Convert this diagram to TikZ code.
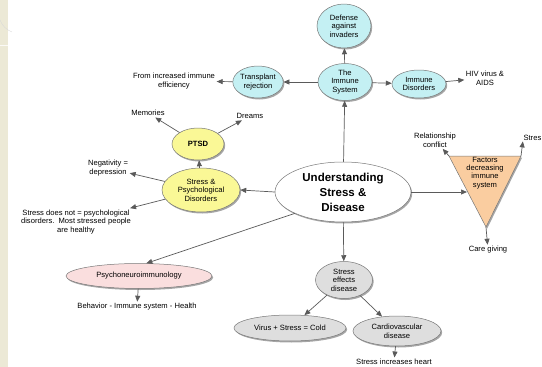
\documentclass[tikz,border=0pt]{standalone}
\usepackage{fontspec}
\setmainfont{Liberation Sans}
\usetikzlibrary{arrows.meta,shapes.geometric,shadows}
\definecolor{cyanf}{RGB}{196,240,243}
\definecolor{yellowf}{RGB}{250,248,150}
\definecolor{pinkf}{RGB}{250,222,222}
\definecolor{grayf}{RGB}{222,222,222}
\definecolor{orangef}{RGB}{250,205,160}
\definecolor{beige}{RGB}{236,233,214}
\definecolor{edgec}{RGB}{120,120,120}
\definecolor{arrc}{RGB}{90,90,90}
\begin{document}
\begin{tikzpicture}[x=1pt,y=-1pt,
  shad/.style={drop shadow={shadow xshift=1.2pt,shadow yshift=-1.5pt,opacity=0.35,fill=black}},
  el/.style={ellipse,draw=edgec,line width=0.5pt,inner sep=0pt,align=center,
    font=\fontsize{7.6}{8.6}\selectfont,shad},
  txt/.style={align=center,inner sep=1.5pt,font=\fontsize{7.6}{8.6}\selectfont},
  arr/.style={draw=arrc,line width=0.7pt,-{Triangle[length=6pt,width=5pt]}}]
\useasboundingbox (0,0) rectangle (542,367);
\clip (0,0) rectangle (542,367);
\fill[white] (0,0) rectangle (542,367);
\fill[beige] (0,0) rectangle (8,367);
\draw[white,line width=0.6pt,opacity=0.8] (0,45) -- (8,45);
\draw[black!15,line width=0.4pt] (0,20) arc[start angle=160,end angle=110,radius=20];

% immune cluster
\node[el,fill=cyanf,minimum width=54pt,minimum height=44pt] (def) at (344,26) {Defense\\against\\invaders};
\node[el,fill=cyanf,minimum width=54pt,minimum height=37pt] (imm) at (345,82) {The\\Immune\\System};
\node[el,fill=cyanf,minimum width=48pt,minimum height=32pt] (tra) at (258,82) {Transplant\\rejection};
\node[el,fill=cyanf,minimum width=54pt,minimum height=28pt] (dis) at (419,84) {Immune\\Disorders};
\node[txt] (hiv) at (485,78) {HIV virus \&\\AIDS};
\node[txt] (eff) at (174,81) {From increased immune\\efficiency};

% center
\node[el,fill=white,minimum width=136pt,minimum height=60pt,
  font=\fontsize{11.5}{15}\selectfont\bfseries] (c) at (343,192) {Understanding\\Stress \&\\Disease};

% psych cluster
\node[el,fill=yellowf,minimum width=52pt,minimum height=32pt,font=\fontsize{7.6}{8.6}\selectfont\bfseries] (ptsd) at (198,144) {PTSD};
\node[txt] (mem) at (148,113) {Memories};
\node[txt] (dre) at (250,116) {Dreams};
\node[el,fill=yellowf,minimum width=78pt,minimum height=44pt] (spd) at (201,190) {Stress \&\\Psychological\\Disorders};
\node[txt] (neg) at (108,168) {Negativity =\\depression};
\node[txt] (sdn) at (76,222) {Stress does not = psychological\\disorders.\ \ Most stressed people\\are healthy};

% PNI
\node[el,fill=pinkf,minimum width=146pt,minimum height=25pt] (pni) at (139,276) {Psychoneuroimmunology};
\node[txt] (beh) at (137,307) {Behavior - Immune system - Health};

% disease
\node[el,fill=grayf,minimum width=57pt,minimum height=37pt] (sed) at (344,280) {Stress\\effects\\disease};
\node[el,fill=grayf,minimum width=112pt,minimum height=26pt] (vir) at (290,328) {Virus + Stress = Cold};
\node[el,fill=grayf,minimum width=88pt,minimum height=30pt] (car) at (397,331) {Cardiovascular\\disease};
\node[txt] (sih) at (394,362) {Stress increases heart};

% triangle
\coordinate (tA) at (449,156);
\coordinate (tB) at (521,156);
\coordinate (tC) at (486,227);
\coordinate (tL) at (467,192);
\fill[orangef,draw=edgec,line width=0.5pt,shad] (tA) -- (tB) -- (tC) -- cycle;
\node[txt,font=\fontsize{7.6}{8.2}\selectfont] (fac) at (485,173) {Factors\\decreasing\\immune\\system};
\node[txt] (rel) at (435,140) {Relationship\\conflict};
\node[txt,anchor=east,inner sep=0.5pt] (str) at (542,138) {Stres};
\node[txt] (cg) at (488,250) {Care giving};

% connectors
\draw[arr] (imm) -- (def);
\draw[arr] (imm) -- (tra);
\draw[arr] (imm) -- (dis);
\draw[arr] (dis) -- (hiv);
\draw[arr] (tra) -- (eff);
\draw[arr] (c) -- (imm);
\draw[arr] (c.west) -- (spd.east);
\draw[arr] (spd) -- (ptsd);
\draw[arr] (ptsd) -- (mem);
\draw[arr] (ptsd) -- (dre);
\draw[arr] (spd) -- (neg);
\draw[arr] (spd) -- (sdn);
\draw[arr] (c.south west) -- (pni.60);
\draw[arr] (pni) -- (beh);
\draw[arr] (c) -- (sed);
\draw[arr] (sed) -- (vir);
\draw[arr] (sed) -- (car);
\draw[arr] (car) -- (sih);
\draw[arr] (c.east) -- (tL);
\draw[arr] (tA) -- (rel);
\draw[arr] (tB) -- (str.south west);
\draw[arr] (tC) -- (cg);
\end{tikzpicture}
\end{document}
